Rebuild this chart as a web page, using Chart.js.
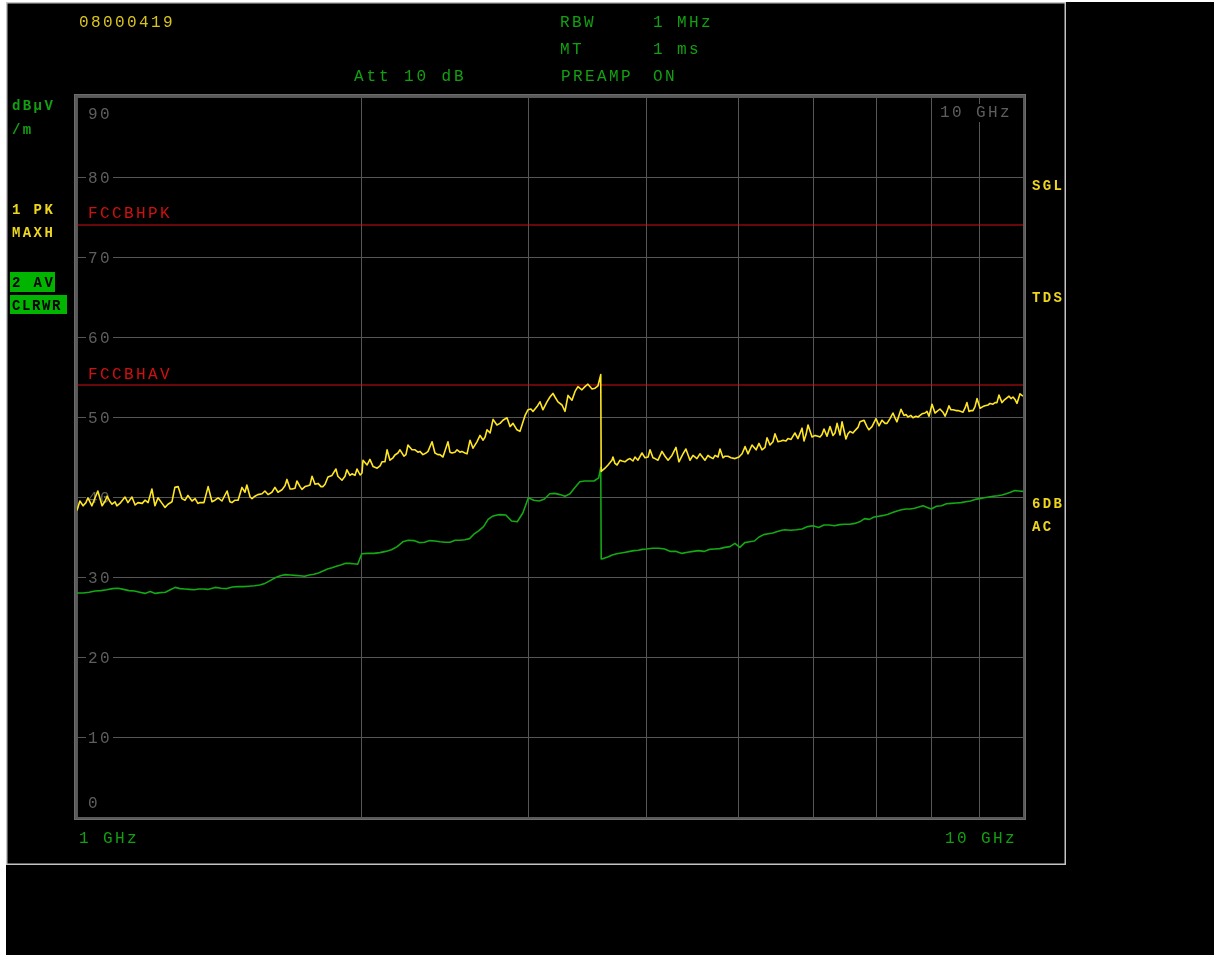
<!DOCTYPE html>
<html>
<head>
<meta charset="utf-8">
<script src="https://cdn.jsdelivr.net/npm/chart.js@4.4.1/dist/chart.umd.min.js"></script>
<style>
  html, body { margin: 0; padding: 0; background: #ffffff; }
  canvas { display: block; }
</style>
</head>
<body>
<canvas id="screen" width="1214" height="955"></canvas>
<script>
// Trace 1: PK detector, MAXH — frequency (GHz) and level (dBµV/m)
const peakFreqGHz = [
  1.000,1.007,1.015,1.022,1.027,1.037,1.045,1.052,1.063,1.071,
  1.076,1.084,1.089,1.097,1.102,1.110,1.124,1.132,1.143,1.152,
  1.160,1.172,1.180,1.189,1.200,1.209,1.218,1.230,1.239,1.248,
  1.260,1.269,1.279,1.291,1.301,1.310,1.323,1.333,1.342,1.349,
  1.362,1.376,1.389,1.399,1.410,1.423,1.441,1.451,1.458,1.469,
  1.480,1.494,1.505,1.512,1.524,1.531,1.542,1.553,1.569,1.580,
  1.592,1.607,1.619,1.631,1.647,1.659,1.667,1.680,1.688,1.700,
  1.708,1.721,1.729,1.742,1.754,1.763,1.772,1.785,1.798,1.811,
  1.820,1.829,1.842,1.860,1.878,1.887,1.906,1.920,1.929,1.943,
  1.953,1.967,1.977,1.992,2.001,2.006,2.026,2.040,2.056,2.076,
  2.091,2.101,2.116,2.127,2.142,2.158,2.168,2.184,2.195,2.216,
  2.227,2.238,2.260,2.277,2.293,2.304,2.321,2.339,2.350,2.373,
  2.390,2.407,2.419,2.437,2.467,2.479,2.491,2.509,2.522,2.540,
  2.552,2.571,2.584,2.603,2.622,2.647,2.667,2.687,2.700,2.713,
  2.733,2.753,2.779,2.800,2.820,2.848,2.869,2.890,2.918,2.939,
  2.954,2.976,2.997,3.019,3.034,3.064,3.086,3.108,3.139,3.162,
  3.185,3.201,3.224,3.256,3.280,3.304,3.336,3.361,3.385,3.418,
  3.443,3.468,3.503,3.529,3.554,3.578,3.582,3.615,3.642,3.660,
  3.677,3.686,3.704,3.723,3.750,3.768,3.795,3.823,3.842,3.870,
  3.889,3.917,3.956,3.985,4.015,4.034,4.063,4.083,4.113,4.153,
  4.184,4.215,4.255,4.297,4.328,4.371,4.402,4.446,4.479,4.522,
  4.555,4.589,4.611,4.645,4.668,4.703,4.726,4.760,4.783,4.818,
  4.841,4.877,4.913,4.961,5.009,5.047,5.084,5.120,5.171,5.222,
  5.259,5.298,5.337,5.363,5.402,5.441,5.468,5.508,5.549,5.576,
  5.616,5.644,5.686,5.713,5.740,5.782,5.840,5.868,5.897,5.926,
  5.984,6.028,6.071,6.101,6.131,6.161,6.206,6.252,6.297,6.328,
  6.360,6.406,6.437,6.499,6.531,6.563,6.611,6.643,6.692,6.725,
  6.790,6.840,6.873,6.924,6.958,6.992,7.043,7.096,7.148,7.182,
  7.235,7.287,7.323,7.358,7.394,7.431,7.485,7.522,7.558,7.613,
  7.650,7.706,7.745,7.783,7.821,7.878,7.916,7.955,8.014,8.072,
  8.112,8.170,8.230,8.272,8.312,8.351,8.392,8.433,8.496,8.537,
  8.600,8.642,8.683,8.725,8.768,8.811,8.854,8.898,8.941,9.007,
  9.071,9.116,9.184,9.229,9.295,9.341,9.386,9.432,9.502,9.549,
  9.595,9.665,9.712,9.759,9.807,9.854,9.927,10.000
];
const peakMaxHold = [
  38.3,39.5,38.9,39.3,39.9,38.9,39.9,40.75,38.9,39.5,
  40.1,39.4,39.1,39.4,38.9,39.2,40.0,39.3,40.0,39.0,
  39.3,39.2,39.6,39.3,41.0,38.9,39.9,39.2,38.7,39.1,
  39.4,41.2,41.3,39.8,39.6,40.2,39.5,39.8,39.2,39.3,
  39.3,41.3,39.4,39.6,39.9,39.5,40.75,39.4,39.3,39.6,
  39.6,41.2,40.6,41.5,40.0,39.8,40.1,40.3,40.4,40.75,
  40.3,40.6,41.2,40.6,40.9,41.4,42.2,41.0,41.0,41.1,
  42.0,41.3,40.95,41.3,41.4,41.5,42.6,41.6,41.7,41.3,
  41.3,41.6,42.5,42.7,43.5,42.6,42.1,42.6,43.4,42.7,
  42.9,42.7,43.5,42.75,43.0,44.6,44.0,44.7,43.8,43.6,
  43.9,44.4,44.4,45.9,44.6,44.9,45.25,45.5,45.9,45.1,
  45.3,46.5,45.9,45.9,45.6,45.7,45.3,45.5,45.7,46.9,
  45.5,45.3,45.3,45.0,46.9,45.6,45.5,45.6,45.9,45.6,
  45.7,45.5,45.4,47.1,46.1,46.9,47.7,47.1,47.5,48.4,
  48.0,49.7,49.0,49.2,49.6,49.9,48.8,49.2,48.4,48.2,
  49.0,50.2,50.9,51.0,50.7,51.3,51.9,50.9,51.9,52.5,
  52.95,52.5,51.9,51.5,50.7,52.7,52.1,53.2,53.8,53.4,
  53.8,54.1,53.5,53.6,53.9,55.3,43.2,43.6,44.0,44.3,
  44.6,45.0,44.2,44.0,44.6,44.5,44.4,44.7,44.8,44.5,
  45.0,44.6,45.5,44.9,45.0,45.9,44.9,44.8,44.6,45.7,
  45.1,44.6,45.2,46.2,44.4,45.4,46.0,44.6,45.2,44.8,
  45.4,44.9,44.6,45.2,45.0,44.8,45.2,45.0,46.0,44.9,
  45.1,45.1,44.9,44.8,45.0,45.4,46.3,45.4,46.5,45.9,
  46.7,45.9,46.2,47.4,46.5,46.9,47.9,46.9,47.0,47.1,
  47.0,47.3,47.2,47.6,48.0,47.3,48.6,47.0,47.8,49.0,
  47.5,47.7,47.6,47.5,47.8,48.5,47.6,48.8,47.7,48.0,
  49.2,47.75,49.4,47.25,47.9,48.2,48.0,48.3,48.7,49.4,
  49.6,48.8,48.4,48.8,49.3,49.8,48.9,49.6,49.2,49.2,
  49.8,50.5,49.9,49.4,50.2,50.96,50.2,50.3,50.0,50.2,
  49.9,50.1,50.0,50.2,50.4,50.5,50.7,50.1,51.6,50.5,
  50.7,51.0,50.6,50.1,50.7,51.4,50.9,50.9,50.8,50.8,
  50.7,50.6,51.1,51.8,50.7,50.8,50.8,51.3,52.3,51.1,
  51.3,51.4,51.5,51.7,51.6,51.8,51.8,52.75,51.8,52.1,
  52.3,52.6,52.3,52.5,52.2,51.7,52.9,52.6
];

// Trace 2: AV detector, CLRWR — frequency (GHz) and level (dBµV/m)
const avgFreqGHz = [
  1.000,1.015,1.030,1.045,1.060,1.075,1.090,1.105,1.120,1.135,1.150,1.165,1.180,1.195,1.210,1.225,1.240,1.255,1.270,1.285,1.300,1.315,1.330,1.345,1.360,1.375,1.390,
  1.40,1.42,1.44,1.46,1.48,1.50,1.52,1.54,1.56,1.58,1.60,1.62,1.64,1.66,1.68,1.70,1.72,1.74,1.76,1.78,1.80,1.82,1.84,1.86,1.88,1.90,1.92,1.94,1.96,1.98,
  2.00,2.03,2.06,2.09,2.12,2.15,2.18,2.21,2.24,2.27,2.30,2.33,2.36,2.39,2.42,2.45,2.48,2.51,2.54,2.57,2.60,2.63,2.66,2.69,2.72,2.75,2.78,
  2.80,2.84,2.88,2.92,2.96,3.00,3.04,3.08,3.12,3.16,3.20,3.24,3.28,3.32,3.36,3.40,3.44,3.48,3.52,3.56,3.578,3.582,3.60,3.64,3.68,3.72,3.76,3.80,3.84,3.88,3.92,3.96,
  4.00,4.06,4.12,4.18,4.24,4.30,4.36,4.42,4.48,4.54,4.60,4.66,4.72,4.78,4.84,4.90,4.96,5.02,5.08,5.14,5.20,5.26,5.32,5.38,5.44,5.50,5.56,
  5.60,5.68,5.76,5.84,5.92,6.00,6.08,6.16,6.24,6.32,6.40,6.48,6.56,6.64,6.72,6.80,6.88,6.96,7.04,7.12,7.20,7.28,7.36,7.44,7.52,7.60,7.68,7.76,7.84,7.92,
  8.0,8.1,8.2,8.3,8.4,8.5,8.6,8.7,8.8,8.9,9.0,9.1,9.2,9.3,9.4,9.5,9.6,9.7,9.8,9.9,10.0
];
const avgClearWrite = [
  28.0,28.0,28.1,28.25,28.3,28.4,28.55,28.6,28.45,28.3,28.25,28.1,27.95,28.2,27.95,28.05,28.1,28.4,28.7,28.55,28.5,28.45,28.4,28.5,28.5,28.45,28.6,
  28.7,28.6,28.55,28.75,28.8,28.8,28.85,28.9,29.0,29.2,29.55,29.9,30.15,30.3,30.25,30.2,30.15,30.1,30.25,30.35,30.5,30.75,31.0,31.15,31.35,31.5,31.7,31.7,31.65,31.6,
  32.9,32.95,32.95,33.05,33.2,33.4,33.8,34.4,34.6,34.55,34.3,34.35,34.55,34.5,34.4,34.35,34.35,34.6,34.6,34.65,34.8,35.4,35.8,36.3,37.2,37.6,37.75,
  37.8,37.75,37.0,36.9,38.0,39.9,39.6,39.5,39.75,40.4,40.45,40.3,40.1,40.4,41.2,41.9,42.0,42.0,42.0,42.4,43.7,32.25,32.3,32.5,32.75,32.9,33.0,33.1,33.2,33.3,33.35,33.45,
  33.5,33.6,33.6,33.5,33.2,33.2,32.95,33.1,33.2,33.3,33.2,33.45,33.5,33.55,33.7,33.8,34.2,33.7,34.3,34.4,34.5,35.0,35.3,35.4,35.5,35.7,35.85,
  35.9,35.85,35.9,36.0,36.3,36.4,36.2,36.5,36.5,36.4,36.55,36.6,36.6,36.7,36.9,37.3,37.2,37.5,37.6,37.7,37.85,38.05,38.25,38.4,38.5,38.5,38.6,38.75,38.9,38.7,
  38.5,38.85,38.9,39.15,39.2,39.25,39.3,39.4,39.5,39.7,39.8,39.9,40.0,40.1,40.15,40.25,40.4,40.6,40.8,40.75,40.7
];

// Limit lines
const limitFreqGHz = [1, 10];
const limitPeakName = 'FCCBHPK';
const limitPeakLevel = [74, 74];
const limitAvgName = 'FCCBHAV';
const limitAvgLevel = [54, 54];

// Axis grid
const levelTicks = [0, 10, 20, 30, 40, 50, 60, 70, 80, 90];
const freqTicks = [1, 2, 3, 4, 5, 6, 7, 8, 9, 10];
const spanStartLabel = '1 GHz';
const spanStopLabel = '10 GHz';

const toPoints = (xs, ys) => xs.map((x, i) => ({ x: x, y: ys[i] }));

const THIN = '16px "Liberation Mono", "DejaVu Sans Mono", monospace';
const BOLD = 'bold 14px "Liberation Mono", "DejaVu Sans Mono", monospace';
const GREEN_TXT = '#12a012';
const YELLOW_TXT = '#d8c41c';
const YELLOW_BOLD = '#eed51e';
const GRID = '#565656';
const GREY_TXT = '#5e5e5e';

function put(ctx, s, x, y, color, font, spacing) {
  ctx.save();
  ctx.font = font;
  ctx.fillStyle = color;
  ctx.textAlign = 'left';
  ctx.textBaseline = 'middle';
  ctx.letterSpacing = spacing + 'px';
  ctx.fillText(s, x, y);
  ctx.restore();
}

const screenPlugin = {
  id: 'analyzerScreen',
  beforeDraw(chart) {
    const ctx = chart.ctx;
    ctx.save();
    ctx.fillStyle = '#ffffff';
    ctx.fillRect(0, 0, chart.width, chart.height);
    ctx.fillStyle = '#000000';
    ctx.fillRect(6, 2, chart.width - 6, chart.height - 2);
    ctx.restore();
  },
  beforeDatasetsDraw(chart) {
    const ctx = chart.ctx;
    const a = chart.chartArea;
    const ys = chart.scales.y;
    // level labels inside the grid, each on a black patch
    levelTicks.forEach(v => {
      let py = ys.getPixelForValue(v);
      py = Math.min(Math.max(py, a.top + 16), a.bottom - 15);
      const s = String(v);
      ctx.fillStyle = '#000';
      ctx.fillRect(a.left + 9, py - 8, s.length * 12 + 3, 17);
      put(ctx, s, a.left + 11, py + 1.5, GREY_TXT, THIN, 2.4);
    });
    // stop frequency tag in the top right corner
    ctx.fillStyle = '#000';
    ctx.fillRect(a.right - 87, a.top + 7, 80, 18);
    put(ctx, spanStopLabel, a.right - 83, a.top + 16, GREY_TXT, THIN, 2.4);
    // limit line names
    const y74 = ys.getPixelForValue(limitPeakLevel[0]);
    const y54 = ys.getPixelForValue(limitAvgLevel[0]);
    put(ctx, limitPeakName, a.left + 11, y74 - 11, '#d01010', THIN, 2.4);
    put(ctx, limitAvgName, a.left + 11, y54 - 10, '#d01010', THIN, 2.4);
  },
  afterDatasetsDraw(chart) {
    const ctx = chart.ctx;
    const a = chart.chartArea;
    // grid frame
    ctx.save();
    ctx.strokeStyle = '#5a5a5a';
    ctx.lineWidth = 3;
    ctx.strokeRect(a.left - 1.5, a.top - 1.5, a.right - a.left + 3, a.bottom - a.top + 3);
    ctx.strokeStyle = '#6c6c6c';
    ctx.lineWidth = 1;
    ctx.strokeRect(a.left - 2.5, a.top - 2.5, a.right - a.left + 5, a.bottom - a.top + 5);
    // screen border
    ctx.strokeStyle = '#c4c4c4';
    ctx.lineWidth = 1.5;
    ctx.strokeRect(6.75, 2.75, 1058.5, 861.5);
    ctx.restore();

    // header settings
    put(ctx, '08000419', 79, 23, YELLOW_TXT, THIN, 2.4);
    put(ctx, 'RBW', 560, 23, GREEN_TXT, THIN, 2.4);
    put(ctx, '1 MHz', 653, 23, GREEN_TXT, THIN, 2.4);
    put(ctx, 'MT', 560, 50, GREEN_TXT, THIN, 2.4);
    put(ctx, '1 ms', 653, 50, GREEN_TXT, THIN, 2.4);
    put(ctx, 'Att 10 dB', 354, 77, GREEN_TXT, THIN, 2.9);
    put(ctx, 'PREAMP', 561, 77, GREEN_TXT, THIN, 2.4);
    put(ctx, 'ON', 653, 77, GREEN_TXT, THIN, 2.4);

    // unit and trace info column
    put(ctx, 'dBµV', 12, 106, GREEN_TXT, BOLD, 2.4);
    put(ctx, '/m', 12, 130, GREEN_TXT, BOLD, 2.4);
    put(ctx, '1 PK', 12, 210, YELLOW_BOLD, BOLD, 2.4);
    put(ctx, 'MAXH', 12, 233, YELLOW_BOLD, BOLD, 2.4);
    ctx.fillStyle = '#00b400';
    ctx.fillRect(10, 272, 45, 20);
    ctx.fillRect(10, 295, 57, 19);
    put(ctx, '2 AV', 12, 283, '#000000', BOLD, 2.4);
    put(ctx, 'CLRWR', 12, 306, '#000000', BOLD, 1.6);

    // status column
    put(ctx, 'SGL', 1032, 186, YELLOW_BOLD, BOLD, 2.4);
    put(ctx, 'TDS', 1032, 298, YELLOW_BOLD, BOLD, 2.4);
    put(ctx, '6DB', 1032, 504, YELLOW_BOLD, BOLD, 2.4);
    put(ctx, 'AC', 1032, 527, YELLOW_BOLD, BOLD, 2.4);

    // span
    put(ctx, spanStartLabel, 79, 839, GREEN_TXT, THIN, 2.4);
    put(ctx, spanStopLabel, 945, 839, GREEN_TXT, THIN, 2.4);
  }
};

new Chart(document.getElementById('screen'), {
  type: 'line',
  data: {
    datasets: [
      {
        label: '1 PK MAXH',
        data: toPoints(peakFreqGHz, peakMaxHold),
        borderColor: '#ffe622',
        borderWidth: 1.6
      },
      {
        label: '2 AV CLRWR',
        data: toPoints(avgFreqGHz, avgClearWrite),
        borderColor: '#14a814',
        borderWidth: 1.6
      },
      {
        label: limitPeakName,
        data: toPoints(limitFreqGHz, limitPeakLevel),
        borderColor: '#d01010',
        borderWidth: 1.2
      },
      {
        label: limitAvgName,
        data: toPoints(limitFreqGHz, limitAvgLevel),
        borderColor: '#d01010',
        borderWidth: 1.2
      }
    ]
  },
  options: {
    responsive: false,
    animation: false,
    events: [],
    elements: {
      point: { radius: 0 },
      line: { tension: 0, borderJoinStyle: 'round' }
    },
    layout: { padding: { left: 77, top: 97, right: 191, bottom: 138 } },
    plugins: { legend: { display: false }, tooltip: { enabled: false } },
    scales: {
      x: {
        type: 'logarithmic',
        min: 1,
        max: 10,
        afterBuildTicks: s => { s.ticks = freqTicks.map(v => ({ value: v })); },
        ticks: { display: false },
        grid: { color: GRID, lineWidth: 1, drawTicks: false },
        border: { display: false }
      },
      y: {
        type: 'linear',
        min: 0,
        max: 90,
        afterBuildTicks: s => { s.ticks = levelTicks.map(v => ({ value: v })); },
        ticks: { display: false },
        grid: { color: GRID, lineWidth: 1, drawTicks: false },
        border: { display: false }
      }
    }
  },
  plugins: [screenPlugin]
});
</script>
</body>
</html>
